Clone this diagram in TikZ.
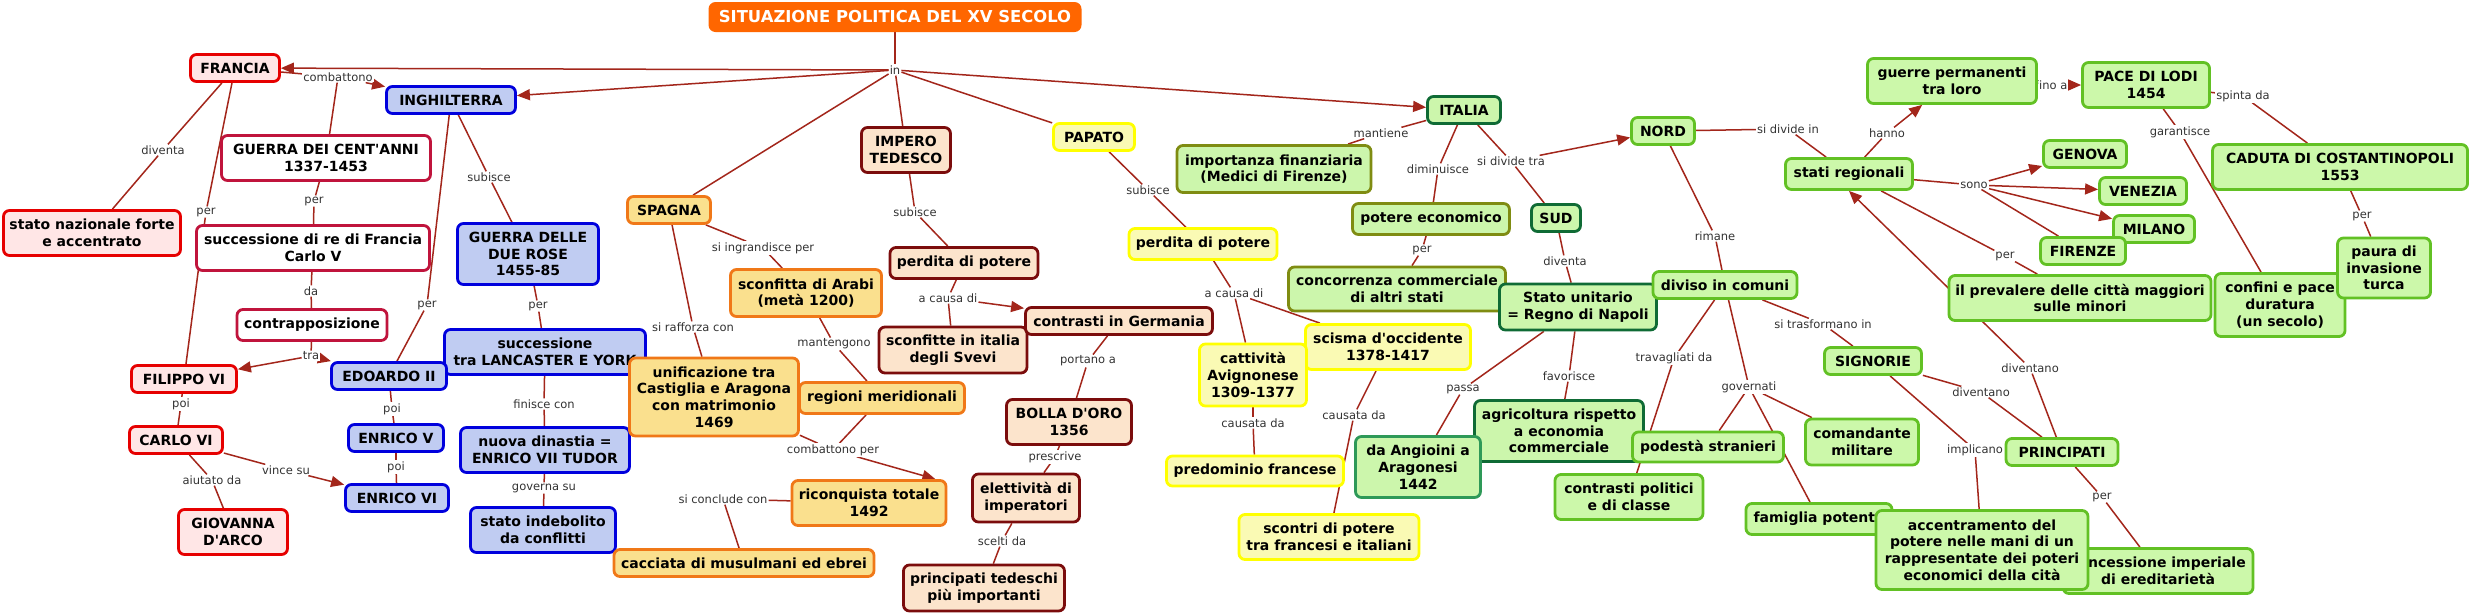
\documentclass[tikz,border=0pt]{standalone}
\usepackage{fontspec}
\setmainfont{DejaVu Sans}
\usetikzlibrary{arrows.meta,calc}
\pgfdeclarelayer{bg}
\pgfsetlayers{bg,main}
\definecolor{lnc}{HTML}{A3261B}
\definecolor{cttl}{HTML}{FF6600}
\definecolor{cfr}{HTML}{E60000}
\definecolor{ffr}{HTML}{FFE6E6}
\definecolor{ccr}{HTML}{C0143C}
\definecolor{cen}{HTML}{0000DD}
\definecolor{fen}{HTML}{C0CCF2}
\definecolor{csp}{HTML}{F07818}
\definecolor{fsp}{HTML}{FAE08E}
\definecolor{cim}{HTML}{7B0C0C}
\definecolor{fim}{HTML}{FCE4CC}
\definecolor{cpa}{HTML}{FFFF00}
\definecolor{fpa}{HTML}{FAFAB4}
\definecolor{citd}{HTML}{0F6B35}
\definecolor{cito}{HTML}{7F8C12}
\definecolor{citm}{HTML}{2E9958}
\definecolor{fit}{HTML}{CCF6AC}
\definecolor{cgr}{HTML}{62C124}
\definecolor{fgr}{HTML}{CCF8AA}
\tikzset{
  sz/.style 2 args={minimum width=#1-3, minimum height=#2-3},
  cn/.style={draw, rounded corners=6pt, line width=2.8pt, align=center, inner xsep=2pt, inner ysep=0pt, font=\fontsize{14}{16.7}\selectfont\bfseries, text=black},
  fr/.style={cn, draw=cfr, fill=ffr},
  cr/.style={cn, draw=ccr, fill=white},
  en/.style={cn, draw=cen, fill=fen},
  sp/.style={cn, draw=csp, fill=fsp},
  im/.style={cn, draw=cim, fill=fim},
  pa/.style={cn, draw=cpa, fill=fpa},
  itd/.style={cn, draw=citd, fill=fit},
  ito/.style={cn, draw=cito, fill=fit},
  itm/.style={cn, draw=citm, fill=fit},
  gr/.style={cn, draw=cgr, fill=fgr},
  ttl/.style={fill=cttl, rounded corners=7pt, text=white, align=center, font=\fontsize{16.4}{19}\selectfont\bfseries},
  lb/.style={fill=white, inner sep=1pt, font=\fontsize{11.5}{13}\selectfont, text=black!80},
  ln/.style={draw=lnc, line width=1.5pt},
  ar/.style={ln, -{Triangle[length=13pt,width=11pt]}},
}
\begin{document}
\begin{tikzpicture}[x=1pt,y=-1pt]
\useasboundingbox (0,0) rectangle (2471,614);
\begin{pgfonlayer}{bg}
\fill[white] (0,0) rectangle (2471,614);
\end{pgfonlayer}

% title
\node[ttl, sz={376}{33}] (T) at (895,17) {SITUAZIONE POLITICA DEL XV SECOLO};

% ---------- labels ----------
\node[lb] (in) at (895,70) {in};
\node[lb] (lcomb) at (338,77) {combattono};
\node[lb] (ldivF) at (163,150) {diventa};
\node[lb] (lperF) at (206,212) {per};
\node[lb] (lperG) at (314,201) {per};
\node[lb] (lsubI) at (489,177) {subisce};
\node[lb] (lda) at (311,291) {da};
\node[lb] (lperI) at (427,305) {per};
\node[lb] (lperR) at (538,306) {per};
\node[lb] (ltra) at (311,356) {tra};
\node[lb] (lpoiA) at (181,404) {poi};
\node[lb] (lpoiB) at (392,409) {poi};
\node[lb] (lpoiC) at (396,467) {poi};
\node[lb] (laiut) at (212,480) {aiutato da};
\node[lb] (lvince) at (286,470) {vince su};
\node[lb] (lfin) at (544,404) {finisce con};
\node[lb] (lgov) at (544,488) {governa su};
\node[lb] (lingr) at (763,248) {si ingrandisce per};
\node[lb] (lraff) at (693,327) {si rafforza con};
\node[lb] (lmant) at (834,344) {mantengono};
\node[lb] (lcombp) at (833,450) {combattono per};
\node[lb] (lconcl) at (723,499) {si conclude con};
\node[lb] (lsubT) at (915,212) {subisce};
\node[lb] (lcausaT) at (948,298) {a causa di};
\node[lb] (lport) at (1088,361) {portano a};
\node[lb] (lpresc) at (1055,457) {prescrive};
\node[lb] (lscelti) at (1002,541) {scelti da};
\node[lb] (lsubP) at (1148,190) {subisce};
\node[lb] (lcausaP) at (1234,293) {a causa di};
\node[lb] (lcausA) at (1253,423) {causata da};
\node[lb] (lcausB) at (1354,415) {causata da};
\node[lb] (lmantie) at (1381,133) {mantiene};
\node[lb] (ldimin) at (1438,169) {diminuisce};
\node[lb] (lperIt) at (1422,250) {per};
\node[lb] (ldivtra) at (1511,161) {si divide tra};
\node[lb] (ldivS) at (1565,261) {diventa};
\node[lb] (lpassa) at (1463,389) {passa};
\node[lb] (lfavor) at (1569,376) {favorisce};
\node[lb] (ldivin) at (1788,129) {si divide in};
\node[lb] (lrimane) at (1715,236) {rimane};
\node[lb] (ltrav) at (1674,358) {travagliati da};
\node[lb] (lgover) at (1749,387) {governati};
\node[lb] (ltrasf) at (1823,324) {si trasformano in};
\node[lb] (limpl) at (1975,450) {implicano};
\node[lb] (ldivenA) at (1981,392) {diventano};
\node[lb] (ldivenB) at (2030,368) {diventano};
\node[lb] (lperPr) at (2102,497) {per};
\node[lb] (lhanno) at (1887,133) {hanno};
\node[lb] (lfino) at (2051,85) {f\kern0.3pt ino a};
\node[lb] (lsono) at (1974,185) {sono};
\node[lb] (lperSt) at (2005,256) {per};
\node[lb] (lgarant) at (2180,132) {garantisce};
\node[lb] (lspinta) at (2243,96) {spinta da};
\node[lb] (lperC) at (2362,216) {per};

% ---------- France ----------
\node[fr, sz={92}{30}] (FRANCIA) at (235,68) {FRANCIA};
\node[fr, sz={180}{48}] (statonaz) at (92,233) {stato nazionale forte\\e accentrato};
\node[fr, sz={108}{30}] (FILIPPO) at (184,379) {FILIPPO VI};
\node[fr, sz={96}{30}] (CARLO) at (176,440) {CARLO VI};
\node[fr, sz={112}{48}] (GIOVANNA) at (233,532) {GIOVANNA\\D\textquotesingle ARCO};
\node[cr, sz={212}{48}] (guerra100) at (326,158) {GUERRA DEI CENT\textquotesingle ANNI\\1337-1453};
\node[cr, sz={236}{48}] (succre) at (313,248) {successione di re di Francia\\Carlo V};
\node[cr, sz={153}{34}] (contrap) at (312,325) {contrapposizione};

% ---------- England ----------
\node[en, sz={132}{30}] (INGH) at (451,100) {INGHILTERRA};
\node[en, sz={144}{64}] (rose) at (528,254) {GUERRA DELLE\\DUE ROSE\\1455-85};
\node[en, sz={204}{48}] (succlan) at (545,352) {successione\\tra LANCASTER E YORK};
\node[en, sz={118}{30}] (EDOARDO) at (389,376) {EDOARDO II};
\node[en, sz={98}{30}] (ENRV) at (396,438) {ENRICO V};
\node[en, sz={106}{30}] (ENRVI) at (397,498) {ENRICO VI};
\node[en, sz={172}{48}] (nuovadin) at (545,450) {nuova dinastia =\\ENRICO VII TUDOR};
\node[en, sz={148}{48}] (indeb) at (543,530) {stato indebolito\\da conflitti};

% ---------- Spain ----------
\node[sp, sz={86}{30}] (SPAGNA) at (669,210) {SPAGNA};
\node[sp, sz={154}{50}] (sconfA) at (806,293) {sconfitta di Arabi\\(metà 1200)};
\node[sp, sz={172}{81}] (unif) at (714,397) {unificazione tra\\Castiglia e Aragona\\con matrimonio\\1469};
\node[sp, sz={168}{34}] (regioni) at (882,398) {regioni meridionali};
\node[sp, sz={157}{48}] (riconq) at (869,503) {riconquista totale\\1492};
\node[sp, sz={263}{30}] (cacciata) at (744,563) {cacciata di musulmani ed ebrei};

% ---------- Empire ----------
\node[im, sz={92}{48}] (IMPERO) at (906,150) {IMPERO\\TEDESCO};
\node[im, sz={151}{34}] (perdT) at (964,263) {perdita di potere};
\node[im, sz={151}{49}] (svevi) at (953,350) {sconfitte in italia\\degli Svevi};
\node[im, sz={190}{30}] (contrG) at (1119,321) {contrasti in Germania};
\node[im, sz={128}{48}] (BOLLA) at (1069,422) {BOLLA D\textquotesingle ORO\\1356};
\node[im, sz={110}{51}] (elett) at (1026,498) {elettività di\\imperatori};
\node[im, sz={164}{49}] (princT) at (984,588) {principati tedeschi\\più importanti};

% ---------- Papacy ----------
\node[pa, sz={84}{30}] (PAPATO) at (1094,137) {PAPATO};
\node[pa, sz={151}{34}] (perdP) at (1203,244) {perdita di potere};
\node[pa, sz={168}{48}] (scisma) at (1388,347) {scisma d\textquotesingle occidente\\1378-1417};
\node[pa, sz={110}{65}] (cattiv) at (1253,375) {cattività\\Avignonese\\1309-1377};
\node[pa, sz={180}{33}] (predom) at (1255,471) {predominio francese};
\node[pa, sz={183}{48}] (scontri) at (1329,537) {scontri di potere\\tra francesi e italiani};

% ---------- Italy ----------
\node[itd, sz={76}{30}] (ITALIA) at (1464,110) {ITALIA};
\node[ito, sz={197}{50}] (importanza) at (1274,169) {importanza finanziaria\\(Medici di Firenze)};
\node[ito, sz={160}{34}] (potecon) at (1431,219) {potere economico};
\node[ito, sz={220}{47}] (concorr) at (1397,289) {concorrenza commerciale\\di altri stati};
\node[itd, sz={52}{30}] (SUD) at (1556,218) {SUD};
\node[itd, sz={160}{49}] (statounit) at (1578,307) {Stato unitario\\= Regno di Napoli};
\node[itd, sz={172}{64}] (agricol) at (1559,431) {agricoltura rispetto\\a economia\\commerciale};
\node[itm, sz={128}{64}] (angioini) at (1418,467) {da Angioini a\\Aragonesi\\1442};
\node[gr, sz={66}{30}] (NORD) at (1663,131) {NORD};
\node[gr, sz={147}{30}] (diviso) at (1725,285) {diviso in comuni};
\node[gr, sz={154}{33}] (podesta) at (1708,447) {podestà stranieri};
\node[gr, sz={151}{48}] (contrpol) at (1629,497) {contrasti politici\\e di classe};
\node[gr, sz={149}{34}] (famiglia) at (1819,519) {famiglia potente};
\node[gr, sz={116}{49}] (comand) at (1862,442) {comandante\\militare};
\node[gr, sz={100}{30}] (SIGNORIE) at (1873,361) {SIGNORIE};
\node[gr, sz={115}{30}] (PRINC) at (2062,452) {PRINCIPATI};
\node[gr, sz={193}{48}] (concess) at (2158,571) {concessione imperiale\\di ereditarietà};
\node[gr, sz={215}{82}] (accentr) at (1982,550) {accentramento del\\potere nelle mani di un\\rappresentate dei poteri\\economici della cità};
\node[gr, sz={130}{34}] (stati) at (1849,174) {stati regionali};
\node[gr, sz={172}{48}] (guerre) at (1952,81) {guerre permanenti\\tra loro};
\node[gr, sz={130}{48}] (PACE) at (2146,85) {PACE DI LODI\\1454};
\node[gr, sz={86}{30}] (GENOVA) at (2085,154) {GENOVA};
\node[gr, sz={90}{30}] (VENEZIA) at (2143,191) {VENEZIA};
\node[gr, sz={84}{30}] (MILANO) at (2154,229) {MILANO};
\node[gr, sz={88}{30}] (FIRENZE) at (2083,251) {FIRENZE};
\node[gr, sz={258}{48}] (caduta) at (2340,167) {CADUTA DI COSTANTINOPOLI\\1553};
\node[gr, sz={265}{48}] (prevalere) at (2080,298) {il prevalere delle città maggiori\\sulle minori};
\node[gr, sz={133}{66}] (confini) at (2280,305) {confini e pace\\duratura\\(un secolo)};
\node[gr, sz={96}{63}] (paura) at (2384,268) {paura di\\invasione\\turca};

% ---------- connectors ----------
\begin{pgfonlayer}{bg}
\draw[ln] (T) -- (in);
\draw[ar] (in) -- (FRANCIA);
\draw[ar] (in) -- (INGH);
\draw[ln] (in) -- (SPAGNA);
\draw[ln] (in) -- (IMPERO);
\draw[ln] (in) -- (PAPATO);
\draw[ar] (in) -- (ITALIA);
% France
\draw[ln] (FRANCIA) -- (lcomb);
\draw[ar] (lcomb) -- (INGH);
\draw[ln] (lcomb) -- (guerra100);
\draw[ln] (FRANCIA) -- (ldivF);
\draw[ln] (ldivF) -- (statonaz);
\draw[ln] (FRANCIA) -- (lperF);
\draw[ln] (lperF) -- (FILIPPO);
\draw[ln] (guerra100) -- (lperG);
\draw[ln] (lperG) -- (succre);
\draw[ln] (succre) -- (lda);
\draw[ln] (lda) -- (contrap);
\draw[ln] (contrap) -- (ltra);
\draw[ar] (ltra) -- (FILIPPO);
\draw[ar] (ltra) -- (EDOARDO);
\draw[ln] (FILIPPO) -- (lpoiA);
\draw[ln] (lpoiA) -- (CARLO);
\draw[ln] (CARLO) -- (laiut);
\draw[ln] (laiut) -- (GIOVANNA);
\draw[ln] (CARLO) -- (lvince);
\draw[ar] (lvince) -- (ENRVI);
% England
\draw[ln] (INGH) -- (lsubI);
\draw[ln] (lsubI) -- (rose);
\draw[ln] (INGH) -- (lperI);
\draw[ln] (lperI) -- (EDOARDO);
\draw[ln] (rose) -- (lperR);
\draw[ln] (lperR) -- (succlan);
\draw[ln] (succlan) -- (lfin);
\draw[ln] (lfin) -- (nuovadin);
\draw[ln] (nuovadin) -- (lgov);
\draw[ln] (lgov) -- (indeb);
\draw[ln] (EDOARDO) -- (lpoiB);
\draw[ln] (lpoiB) -- (ENRV);
\draw[ln] (ENRV) -- (lpoiC);
\draw[ln] (lpoiC) -- (ENRVI);
% Spain
\draw[ln] (SPAGNA) -- (lingr);
\draw[ln] (lingr) -- (sconfA);
\draw[ln] (SPAGNA) -- (lraff);
\draw[ln] (lraff) -- (unif);
\draw[ln] (sconfA) -- (lmant);
\draw[ln] (lmant) -- (regioni);
\draw[ln] (unif) -- (lcombp);
\draw[ln] (regioni) -- (lcombp);
\draw[ar] (lcombp) -- ($(riconq.north east)+(-12,0)$);
\draw[ln] (riconq) -- (lconcl);
\draw[ln] (lconcl) -- (cacciata);
% Empire
\draw[ln] (IMPERO) -- (lsubT);
\draw[ln] (lsubT) -- (perdT);
\draw[ln] (perdT) -- (lcausaT);
\draw[ar] (lcausaT) -- (contrG);
\draw[ln] (lcausaT) -- (svevi);
\draw[ln] (contrG) -- (lport);
\draw[ln] (lport) -- (BOLLA);
\draw[ln] (BOLLA) -- (lpresc);
\draw[ln] (lpresc) -- (elett);
\draw[ln] (elett) -- (lscelti);
\draw[ln] (lscelti) -- (princT);
% Papacy
\draw[ln] (PAPATO) -- (lsubP);
\draw[ln] (lsubP) -- (perdP);
\draw[ln] (perdP) -- (lcausaP);
\draw[ln] (lcausaP) -- (cattiv);
\draw[ln] (lcausaP) -- (scisma);
\draw[ln] (cattiv) -- (lcausA);
\draw[ln] (lcausA) -- (predom);
\draw[ln] (scisma) -- (lcausB);
\draw[ln] (lcausB) -- (scontri);
% Italy
\draw[ln] (ITALIA) -- (lmantie);
\draw[ln] (lmantie) -- (importanza);
\draw[ln] (ITALIA) -- (ldimin);
\draw[ln] (ldimin) -- (potecon);
\draw[ln] (potecon) -- (lperIt);
\draw[ln] (lperIt) -- (concorr);
\draw[ln] (ITALIA) -- (ldivtra);
\draw[ar] (ldivtra) -- (NORD);
\draw[ln] (ldivtra) -- (SUD);
\draw[ln] (SUD) -- (ldivS);
\draw[ln] (ldivS) -- (statounit);
\draw[ln] (statounit) -- (lpassa);
\draw[ln] (lpassa) -- (angioini);
\draw[ln] (statounit) -- (lfavor);
\draw[ln] (lfavor) -- (agricol);
\draw[ln] (NORD) -- (ldivin);
\draw[ln] (ldivin) -- (stati);
\draw[ln] (NORD) -- (lrimane);
\draw[ln] (lrimane) -- (diviso);
\draw[ln] (diviso) -- (ltrav);
\draw[ln] (ltrav) -- (contrpol);
\draw[ln] (diviso) -- (lgover);
\draw[ln] (lgover) -- (podesta);
\draw[ln] (lgover) -- (famiglia);
\draw[ln] (lgover) -- (comand);
\draw[ln] (diviso) -- (ltrasf);
\draw[ln] (ltrasf) -- (SIGNORIE);
\draw[ln] (SIGNORIE) -- (limpl);
\draw[ln] (limpl) -- (accentr);
\draw[ln] (SIGNORIE) -- (ldivenA);
\draw[ln] (ldivenA) -- (PRINC);
\draw[ln] (PRINC) -- (ldivenB);
\draw[ar] (ldivenB) -- (stati.south);
\draw[ln] (PRINC) -- (lperPr);
\draw[ln] (lperPr) -- (concess);
\draw[ln] (stati) -- (lhanno);
\draw[ar] (lhanno) -- (guerre);
\draw[ln] (guerre) -- (lfino);
\draw[ar] (lfino) -- (PACE);
\draw[ln] (stati) -- (lsono);
\draw[ar] (lsono) -- (GENOVA);
\draw[ar] (lsono) -- (VENEZIA);
\draw[ar] (lsono) -- (MILANO);
\draw[ln] (lsono) -- (FIRENZE);
\draw[ln] (stati) -- (lperSt);
\draw[ln] (lperSt) -- (prevalere);
\draw[ln] (PACE) -- (lgarant);
\draw[ln] (lgarant) -- (confini);
\draw[ln] (caduta) -- (lspinta);
\draw[ln] (lspinta) -- (PACE);
\draw[ln] (caduta) -- (lperC);
\draw[ln] (lperC) -- (paura);
\end{pgfonlayer}
\end{tikzpicture}
\end{document}
